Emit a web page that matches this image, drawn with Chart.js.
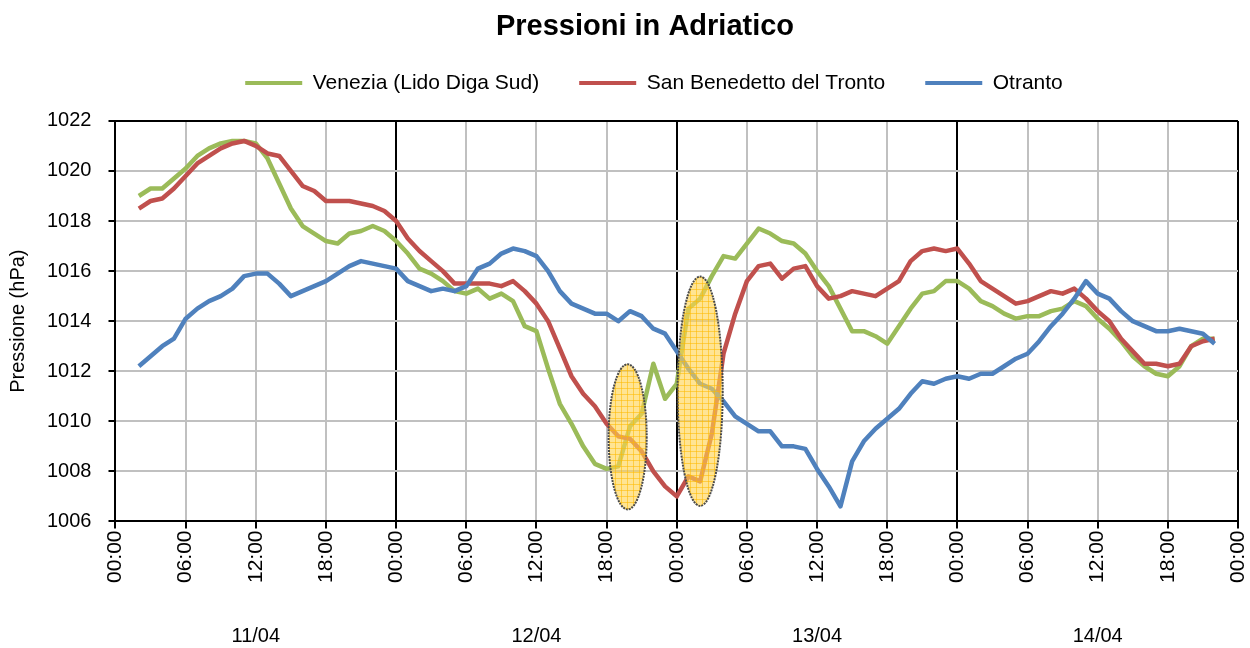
<!DOCTYPE html>
<html>
<head>
<meta charset="utf-8">
<script src="https://cdn.jsdelivr.net/npm/chart.js@4/dist/chart.umd.min.js"></script>
<style>
    html, body { margin: 0; padding: 0; background: #fff; }
</style>
</head>
<body>
<canvas id="chart" width="1250" height="648"></canvas>
<script>
// hourly readings, first value at 02:00 on 11/04
const firstHour = 2;

const venezia = [
    1019.0, 1019.3, 1019.3, 1019.7, 1020.1, 1020.6, 1020.9, 1021.1, 1021.2, 1021.2, 1021.1,
    1020.5, 1019.5, 1018.5, 1017.8, 1017.5, 1017.2, 1017.1, 1017.5, 1017.6, 1017.8, 1017.6, 1017.2,
    1016.7, 1016.1, 1015.9, 1015.6, 1015.2, 1015.1, 1015.3, 1014.9, 1015.1, 1014.8, 1013.8, 1013.6,
    1012.1, 1010.7, 1009.9, 1009.0, 1008.3, 1008.1, 1008.2, 1009.8, 1010.3, 1012.3, 1010.9, 1011.5,
    1014.5, 1014.9, 1015.8, 1016.6, 1016.5, 1017.1, 1017.7, 1017.5, 1017.2, 1017.1, 1016.7, 1016.0,
    1015.4, 1014.5, 1013.6, 1013.6, 1013.4, 1013.1, 1013.8, 1014.5, 1015.1, 1015.2, 1015.6, 1015.6,
    1015.3, 1014.8, 1014.6, 1014.3, 1014.1, 1014.2, 1014.2, 1014.4, 1014.5, 1014.8, 1014.6, 1014.1,
    1013.7, 1013.2, 1012.6, 1012.2, 1011.9, 1011.8, 1012.2, 1013.0, 1013.3, 1013.3,
];

const sanBenedetto = [
    1018.5, 1018.8, 1018.9, 1019.3, 1019.8, 1020.3, 1020.6, 1020.9, 1021.1, 1021.2, 1021.0,
    1020.7, 1020.6, 1020.0, 1019.4, 1019.2, 1018.8, 1018.8, 1018.8, 1018.7, 1018.6, 1018.4, 1018.0,
    1017.3, 1016.8, 1016.4, 1016.0, 1015.5, 1015.5, 1015.5, 1015.5, 1015.4, 1015.6, 1015.2, 1014.7,
    1014.0, 1012.9, 1011.8, 1011.1, 1010.6, 1009.9, 1009.4, 1009.3, 1008.8, 1008.0, 1007.4, 1007.0,
    1007.8, 1007.6, 1009.5, 1012.7, 1014.3, 1015.6, 1016.2, 1016.3, 1015.7, 1016.1, 1016.2, 1015.4,
    1014.9, 1015.0, 1015.2, 1015.1, 1015.0, 1015.3, 1015.6, 1016.4, 1016.8, 1016.9, 1016.8, 1016.9,
    1016.3, 1015.6, 1015.3, 1015.0, 1014.7, 1014.8, 1015.0, 1015.2, 1015.1, 1015.3, 1014.9, 1014.4,
    1014.0, 1013.3, 1012.8, 1012.3, 1012.3, 1012.2, 1012.3, 1013.0, 1013.2, 1013.3,
];

const otranto = [
    1012.2, 1012.6, 1013.0, 1013.3, 1014.1, 1014.5, 1014.8, 1015.0, 1015.3, 1015.8, 1015.9,
    1015.9, 1015.5, 1015.0, 1015.2, 1015.4, 1015.6, 1015.9, 1016.2, 1016.4, 1016.3, 1016.2, 1016.1,
    1015.6, 1015.4, 1015.2, 1015.3, 1015.2, 1015.4, 1016.1, 1016.3, 1016.7, 1016.9, 1016.8, 1016.6,
    1016.0, 1015.2, 1014.7, 1014.5, 1014.3, 1014.3, 1014.0, 1014.4, 1014.2, 1013.7, 1013.5, 1012.8,
    1012.1, 1011.5, 1011.3, 1010.8, 1010.2, 1009.9, 1009.6, 1009.6, 1009.0, 1009.0, 1008.9, 1008.1,
    1007.4, 1006.6, 1008.4, 1009.2, 1009.7, 1010.1, 1010.5, 1011.1, 1011.6, 1011.5, 1011.7, 1011.8,
    1011.7, 1011.9, 1011.9, 1012.2, 1012.5, 1012.7, 1013.2, 1013.8, 1014.3, 1014.9, 1015.6, 1015.1,
    1014.9, 1014.4, 1014.0, 1013.8, 1013.6, 1013.6, 1013.7, 1013.6, 1013.5, 1013.1,
];

const seriesNames = ['Venezia (Lido Diga Sud)', 'San Benedetto del Tronto', 'Otranto'];
const seriesColors = ['#9BBB59', '#C0504D', '#4F81BD'];

const dayLabels = ['11/04', '12/04', '13/04', '14/04'];
const dayCenters = [12, 36, 60, 84];

// highlighted spots: centre (hour, hPa) and half sizes (hours, hPa)
const highlights = [
    { hour: 43.8, value: 1009.38, dh: 1.63, dv: 2.9 },
    { hour: 50.0, value: 1011.2, dh: 1.93, dv: 4.58 },
];

const font = 'Liberation Sans, Arial, sans-serif';

function toPoints(values) {
    return values.map((v, i) => ({ x: firstHour + i, y: v }));
}

const highlightPlugin = {
    id: 'highlights',
    afterDatasetsDraw(chart) {
        const { ctx, scales } = chart;
        const x = scales.x;
        const y = scales.y;
        highlights.forEach((h) => {
            const cx = x.getPixelForValue(h.hour);
            const cy = y.getPixelForValue(h.value);
            const rx = Math.abs(x.getPixelForValue(h.hour + h.dh) - cx);
            const ry = Math.abs(y.getPixelForValue(h.value + h.dv) - cy);
            ctx.save();
            ctx.beginPath();
            ctx.ellipse(cx, cy, rx, ry, 0, 0, Math.PI * 2);
            ctx.fillStyle = 'rgba(255, 212, 80, 0.62)';
            ctx.fill();
            ctx.clip();
            ctx.strokeStyle = 'rgba(255, 185, 0, 0.55)';
            ctx.lineWidth = 1;
            for (let gx = cx - rx; gx <= cx + rx; gx += 6) {
                ctx.beginPath();
                ctx.moveTo(Math.round(gx) + 0.5, cy - ry);
                ctx.lineTo(Math.round(gx) + 0.5, cy + ry);
                ctx.stroke();
            }
            for (let gy = cy - ry; gy <= cy + ry; gy += 6) {
                ctx.beginPath();
                ctx.moveTo(cx - rx, Math.round(gy) + 0.5);
                ctx.lineTo(cx + rx, Math.round(gy) + 0.5);
                ctx.stroke();
            }
            ctx.restore();
            ctx.save();
            ctx.beginPath();
            ctx.ellipse(cx, cy, rx, ry, 0, 0, Math.PI * 2);
            ctx.strokeStyle = '#4a4a4a';
            ctx.lineWidth = 2;
            ctx.setLineDash([2, 1]);
            ctx.stroke();
            ctx.restore();
        });
    },
};

const whiteBg = {
    id: 'whiteBg',
    beforeDraw(chart) {
        const { ctx } = chart;
        ctx.save();
        ctx.fillStyle = '#fff';
        ctx.fillRect(0, 0, chart.width, chart.height);
        ctx.restore();
    },
};

// header in the original sits a bit right of the page centre
const headerShift = {
    id: 'headerShift',
    afterLayout(chart) {
        if (chart.titleBlock) {
            chart.titleBlock.left += 20;
            chart.titleBlock.right += 20;
        }
        if (chart.legend) {
            chart.legend.left += 29;
            chart.legend.right += 29;
        }
    },
};

new Chart(document.getElementById('chart'), {
    type: 'line',
    data: {
        datasets: [venezia, sanBenedetto, otranto].map((vals, i) => ({
            label: seriesNames[i],
            data: toPoints(vals),
            borderColor: seriesColors[i],
            backgroundColor: seriesColors[i],
            borderWidth: 4.5,
            pointRadius: 0,
            tension: 0,
            borderJoinStyle: 'round',
            order: 3 - i,
        })),
    },
    options: {
        responsive: false,
        animation: false,
        layout: { padding: 0 },
        plugins: {
            title: {
                display: true,
                text: 'Pressioni in Adriatico',
                color: '#000',
                font: { family: font, size: 29, weight: 'bold', lineHeight: 0.1 },
                padding: { top: 25.5, bottom: 4 },
            },
            // empty spacer between legend and plot
            subtitle: {
                display: true,
                text: ' ',
                weight: 500,
                font: { size: 10, lineHeight: 1.0 },
                padding: { top: 7.5, bottom: 0 },
            },
            legend: {
                display: true,
                labels: {
                    color: '#000',
                    font: { family: font, size: 21 },
                    boxWidth: 57,
                    boxHeight: 4,
                    padding: 40,
                    generateLabels(chart) {
                        return Chart.defaults.plugins.legend.labels.generateLabels(chart)
                            .sort((a, b) => a.datasetIndex - b.datasetIndex)
                            .map((l) => ({ ...l, lineWidth: 0 }));
                    },
                },
            },
            tooltip: { enabled: false },
        },
        scales: {
            x: {
                type: 'linear',
                min: 0,
                max: 96,
                weight: 0,
                ticks: {
                    stepSize: 6,
                    color: '#000',
                    font: { family: font, size: 21 },
                    minRotation: 90,
                    maxRotation: 90,
                    padding: 2,
                    callback: (v) => String(v % 24).padStart(2, '0') + ':00',
                },
                grid: {
                    color: (c) => (c.tick && c.tick.value % 24 === 0 ? '#000' : '#c0c0c0'),
                    lineWidth: 2,
                    tickColor: '#000',
                    tickLength: 7,
                },
                border: { color: '#000', width: 2 },
                afterFit(axis) {
                    axis.paddingRight = 12;
                },
            },
            x2: {
                type: 'linear',
                position: 'bottom',
                min: 0,
                max: 96,
                weight: 1,
                afterBuildTicks(axis) {
                    axis.ticks = dayCenters.map((v) => ({ value: v }));
                },
                ticks: {
                    autoSkip: false,
                    maxRotation: 0,
                    minRotation: 0,
                    color: '#000',
                    font: { family: font, size: 20 },
                    padding: 39,
                    callback: (v, i) => dayLabels[i],
                },
                grid: { display: false, drawTicks: false },
                border: { display: false },
                afterFit(axis) {
                    // labels sit low in the band; no extra room below them
                    axis.height = 63;
                },
            },
            y: {
                min: 1006,
                max: 1022,
                ticks: {
                    stepSize: 2,
                    color: '#000',
                    font: { family: font, size: 20 },
                    padding: 17,
                    callback: (v) => String(v),
                },
                grid: {
                    color: (c) => (c.tick && c.tick.value === 1022 ? '#000' : '#c0c0c0'),
                    lineWidth: 2,
                    tickColor: '#000',
                    tickLength: 7,
                },
                border: { color: '#000', width: 2 },
                title: {
                    display: true,
                    text: 'Pressione (hPa)',
                    color: '#000',
                    font: { family: font, size: 20 },
                    padding: { top: 6, bottom: 0 },
                },
            },
        },
    },
    plugins: [whiteBg, headerShift, highlightPlugin],
});
</script>
</body>
</html>
